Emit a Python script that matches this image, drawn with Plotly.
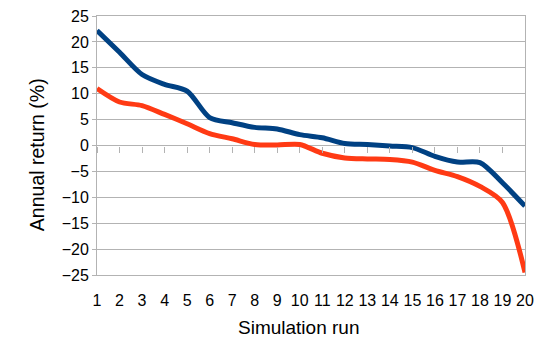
import plotly.graph_objects as go

runs = list(range(1, 21))
blue_returns = [22.2, 18.0, 13.7, 11.8, 10.5, 5.4, 4.4, 3.5, 3.2, 2.1,
                1.5, 0.4, 0.2, -0.1, -0.4, -2.1, -3.2, -3.3, -7.2, -11.7]
red_returns = [11.0, 8.4, 7.7, 6.0, 4.2, 2.3, 1.3, 0.2, 0.1, 0.2,
               -1.5, -2.4, -2.6, -2.7, -3.2, -4.8, -6.0, -7.9, -11.0, -24.5]

grid = "#b3b3b3"
font = "Liberation Sans, Arial, sans-serif"

fig = go.Figure()
fig.add_trace(go.Scatter(x=runs, y=blue_returns, mode="lines",
                         line=dict(color="#004183", width=5, shape="spline", smoothing=0.8)))
fig.add_trace(go.Scatter(x=runs, y=red_returns, mode="lines",
                         line=dict(color="#ff3a14", width=5, shape="spline", smoothing=0.8)))

fig.update_layout(
    width=545, height=362,
    margin=dict(l=97, r=20, t=16, b=87, autoexpand=False),
    plot_bgcolor="white", paper_bgcolor="white",
    showlegend=False,
    font=dict(family=font, size=16, color="black"),
    xaxis=dict(
        range=[1, 20], tickvals=runs, showgrid=False, zeroline=False,
        showline=True, linecolor=grid, mirror=True, automargin=False,
        ticks="outside", ticklen=11, tickcolor="rgba(0,0,0,0)",
    ),
    # tick marks drawn along the zero line
    xaxis2=dict(
        overlaying="x", matches="x", anchor="free", position=0.5,
        tickvals=runs, showticklabels=False, showgrid=False, zeroline=False,
        showline=False, ticks="outside", ticklen=6, tickcolor=grid,
    ),
    yaxis=dict(
        range=[-25, 25], dtick=5, showgrid=True, gridcolor=grid, gridwidth=1,
        zeroline=True, zerolinecolor=grid, zerolinewidth=1,
        showline=True, linecolor=grid, mirror=True, automargin=False,
        ticks="outside", ticklen=4, tickcolor=grid,
    ),
    annotations=[
        dict(text="Simulation run", xref="paper", yref="paper", x=0.47, y=-0.201,
             xanchor="center", yanchor="middle", showarrow=False, font=dict(size=19)),
        dict(text="Annual return (%)", xref="paper", yref="paper", x=-0.14, y=0.463,
             xanchor="center", yanchor="middle", textangle=-90, showarrow=False,
             font=dict(size=19.5)),
    ],
)
fig.add_trace(go.Scatter(x=[1], y=[0], xaxis="x2", mode="markers",
                         marker=dict(opacity=0), hoverinfo="skip"))

# drop the default page margin so the figure sits at the window corner
fig.write_html("out.html", config={"displayModeBar": False},
               post_script="document.body.style.margin='0';")
